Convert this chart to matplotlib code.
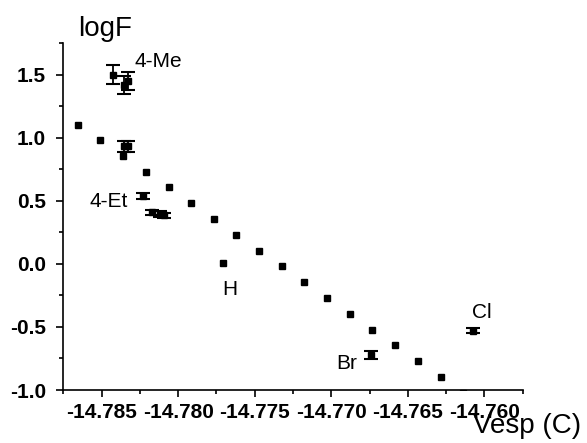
import matplotlib
matplotlib.use("Agg")
import matplotlib.pyplot as plt
from matplotlib.ticker import MultipleLocator, FormatStrFormatter

plt.rcParams['font.family'] = ['Liberation Sans', 'DejaVu Sans']

# plain points (no error bars)
x_plain = [-14.78657, -14.78509, -14.78363, -14.78213, -14.78063, -14.77918,
           -14.77768, -14.77620, -14.77709, -14.77472, -14.77324, -14.77177,
           -14.77027, -14.76881, -14.76731, -14.76581, -14.76433, -14.76285,
           -14.76140]
y_plain = [1.10, 0.98, 0.855, 0.728, 0.606, 0.48,
           0.352, 0.228, 0.005, 0.103, -0.021, -0.145,
           -0.272, -0.394, -0.521, -0.645, -0.77, -0.894,
           -1.02]

# points with error bars
x_err = [-14.78425, -14.78355, -14.78330, -14.78355, -14.78327, -14.78229,
         -14.78174, -14.78120, -14.78094, -14.76740, -14.76077]
y_err = [1.50, 1.42, 1.45, 0.93, 0.93, 0.535,
         0.41, 0.395, 0.385, -0.723, -0.532]
e_err = [0.077, 0.071, 0.070, 0.045, 0.045, 0.025,
         0.02, 0.02, 0.02, 0.033, 0.02]

labels = ["4-Me", "4-Et", "H", "Br", "Cl"]
label_x = [-14.78283, -14.78576, -14.77714, -14.76968, -14.76081]
label_y = [1.559, 0.45, -0.246, -0.836, -0.433]

fig = plt.figure(figsize=(5.87, 4.43), dpi=100)
ax = fig.add_axes([63.3 / 587, 1 - 390 / 443, (522.7 - 63.3) / 587, (390 - 43) / 443])

ax.plot(x_plain, y_plain, ls='none', marker='s', ms=5, color='black',
        clip_on=True)
ax.errorbar(x_err, y_err, yerr=e_err, fmt='s', ms=5, color='black',
            ecolor='black', elinewidth=1.3, capsize=4.8, capthick=1.5)

for t, lx, ly in zip(labels, label_x, label_y):
    ax.text(lx, ly, t, fontsize=15, ha='left', va='baseline')

ax.set_xlim(-14.7875, -14.7575)
ax.set_ylim(-1.0, 1.75)
ax.xaxis.set_major_locator(MultipleLocator(0.005))
ax.xaxis.set_minor_locator(MultipleLocator(0.0025))
ax.yaxis.set_major_locator(MultipleLocator(0.5))
ax.yaxis.set_minor_locator(MultipleLocator(0.25))
ax.xaxis.set_major_formatter(FormatStrFormatter('%.3f'))
ax.yaxis.set_major_formatter(FormatStrFormatter('%.1f'))

for s in ['top', 'right']:
    ax.spines[s].set_visible(False)
for s in ['left', 'bottom']:
    ax.spines[s].set_linewidth(1.2)

ax.tick_params(which='major', length=5, width=1.2, labelsize=15, direction='out')
ax.tick_params(which='minor', length=3, width=1.2, direction='out')
ax.tick_params(axis='y', which='major', pad=7.5)
ax.tick_params(axis='x', which='major', pad=4.5)
for lab in ax.get_xticklabels() + ax.get_yticklabels():
    lab.set_fontweight('bold')

fig.text(105 / 587, 1 - 36 / 443, "logF", fontsize=20, ha='center', va='baseline')
fig.text(473 / 587, 1 - 433 / 443, "Vesp (C)", fontsize=20, ha='left', va='baseline')

fig.savefig("out.png", dpi=100)
